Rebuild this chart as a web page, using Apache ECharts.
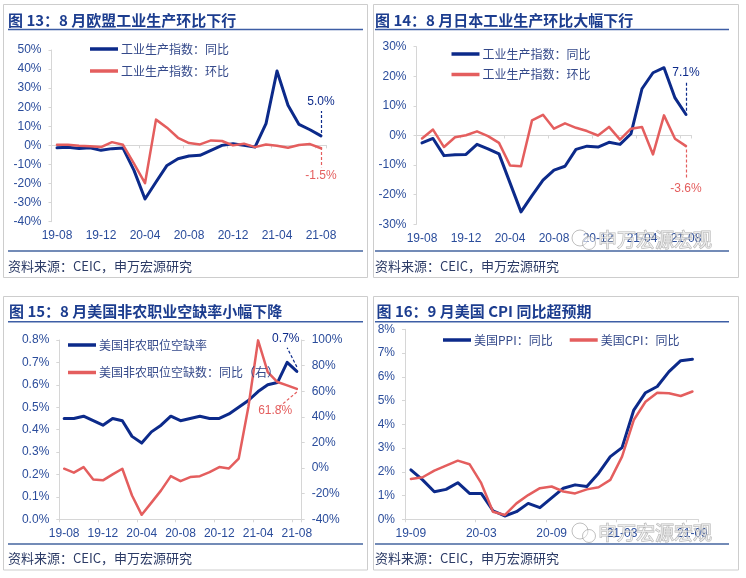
<!DOCTYPE html>
<html><head><meta charset="utf-8">
<script src="https://cdn.jsdelivr.net/npm/echarts@6/dist/echarts.min.js"></script>
<style>html,body{margin:0;padding:0;background:#fff}#c{width:746px;height:578px}</style>
</head><body><div id="c"></div>
<script>
// ---------- data ----------
const monthsA = ['19-08','19-09','19-10','19-11','19-12','20-01','20-02','20-03','20-04','20-05','20-06','20-07','20-08','20-09','20-10','20-11','20-12','21-01','21-02','21-03','21-04','21-05','21-06','21-07','21-08'];
const monthsB = ['19-09','19-10','19-11','19-12','20-01','20-02','20-03','20-04','20-05','20-06','20-07','20-08','20-09','20-10','20-11','20-12','21-01','21-02','21-03','21-04','21-05','21-06','21-07','21-08','21-09'];

const euYoY = [-1.3,-1.0,-1.6,-1.2,-2.6,-1.7,-1.4,-13.1,-28.1,-19.2,-10.5,-7.0,-5.6,-5.2,-2.6,0,0.9,0,-0.9,11.4,39.0,21.0,11.0,8.2,5.0];
const euMoM = [0.3,0.3,-0.2,-0.5,-0.9,1.7,0.3,-9.6,-19.8,13.5,9.3,4.0,1.2,0.5,2.6,2.3,0,0.9,-0.9,0.5,-0.2,-1.2,0.2,0.7,-1.5];

const jpYoY = [-2.5,-1.0,-6.8,-6.5,-6.4,-3.0,-4.5,-6.2,-16.0,-25.8,-20.3,-15.1,-11.7,-10.4,-4.7,-3.6,-3.9,-2.3,-3.0,0.6,15.8,21.2,22.9,12.7,7.1];
const jpMoM = [-1.0,2.0,-3.9,-0.6,0.1,1.4,-0.2,-2.5,-10.1,-10.4,5.1,7.0,2.3,4.1,2.6,1.5,0,2.9,-1.4,2.3,2.9,-6.4,6.8,-1.1,-3.6];

const usOpenRate = [0.45,0.45,0.46,0.44,0.42,0.45,0.44,0.37,0.34,0.39,0.42,0.46,0.44,0.45,0.46,0.45,0.45,0.47,0.50,0.53,0.57,0.60,0.61,0.70,0.66];
const usOpenYoY = [-0.5,-3.6,0.8,-8.9,-9.6,-4.9,-0.5,-21.4,-36.5,-27.0,-17.4,-6.3,-10.2,-7.0,-6.3,-3.1,0.8,-0.3,7.3,47.7,99.7,75.0,67.2,64.6,61.8];

const usPPI = [2.08,1.66,1.16,1.26,1.54,1.09,1.09,0.36,0.14,0.32,0.67,0.49,0.90,1.31,1.45,1.38,1.94,2.64,3.02,4.60,5.33,5.59,6.22,6.68,6.74];
const usCPI = [1.70,1.77,2.05,2.26,2.47,2.32,1.52,0.32,0.18,0.67,1.02,1.31,1.38,1.17,1.09,1.26,1.35,1.66,2.64,4.18,4.95,5.33,5.31,5.19,5.38];

const names1 = ['工业生产指数：同比','工业生产指数：环比'];
const names3 = ['美国非农职位空缺率','美国非农职位空缺数：同比（右）'];
const names4 = ['美国PPI：同比','美国CPI：同比'];
const titles = ['图 13：8 月欧盟工业生产环比下行','图 14：8 月日本工业生产环比大幅下行','图 15：8 月美国非农职业空缺率小幅下降','图 16：9 月美国 CPI 同比超预期'];
const source = '资料来源：CEIC，申万宏源研究';

// ---------- style ----------
const FONT = '"Liberation Sans", Arial, "Noto Sans CJK SC", sans-serif';
const CJK = '"Noto Sans CJK SC", "Liberation Sans", sans-serif';
const BLUE = '#0c2a8a', RED = '#e45e5e';
const AXC = '#d6d6d6', LBL = '#2a4c9b', LEG = '#34498a', TTL = '#1c3d8f';

const chart = echarts.init(document.getElementById('c'), null, {renderer:'canvas'});

function yAx(grid, min, max, interval, fmt, extra) {
  return Object.assign({
    type:'value', gridIndex:grid, min:min, max:max, interval:interval,
    splitLine:{show:false},
    axisLine:{show:true, lineStyle:{color:AXC, width:1}},
    axisTick:{show:true, length:3, lineStyle:{color:AXC}},
    axisLabel:{color:LBL, fontSize:12, fontFamily:FONT, margin:10, formatter:fmt}
  }, extra || {});
}
function xLabelAx(grid, cats, interval, showLine, tickInterval) {
  return {
    type:'category', gridIndex:grid, data:cats, boundaryGap:true, position:'bottom',
    axisLine:{show:showLine, onZero:false, lineStyle:{color:AXC}},
    axisTick:{show:showLine, interval:tickInterval, length:3, lineStyle:{color:AXC}},
    axisLabel:{color:LBL, fontSize:12, fontFamily:FONT, margin:8, interval:interval, fontWeight:'normal'}
  };
}
function xZeroAx(grid, cats, tickInterval) {
  return {
    type:'category', gridIndex:grid, data:cats, boundaryGap:true, position:'bottom',
    axisLine:{show:true, onZero:true, lineStyle:{color:AXC}},
    axisTick:{show:true, interval:tickInterval, length:3, lineStyle:{color:AXC}},
    axisLabel:{show:false}
  };
}
function pct(v){ return v + '%'; }
function line(name, data, color, width, xi, yi, ml) {
  const s = {
    name:name, type:'line', data:data, xAxisIndex:xi, yAxisIndex:yi,
    showSymbol:false, symbol:'none', smooth:false, silent:true,
    lineStyle:{color:color, width:width, join:'round', cap:'round'}, itemStyle:{color:color}
  };
  if (ml) s.markLine = ml;
  return s;
}
function annot(color, from, to, text) {
  return {
    silent:true, symbol:['none','none'], animation:false,
    lineStyle:{color:color, type:[3,2], width:1.2},
    label:{show:true, position:'end', formatter:text, color:color, fontSize:12, fontFamily:FONT, distance:3},
    emphasis:{disabled:true},
    data:[[{coord:from},{coord:to}]]
  };
}
function legendCfg(left, top, orient, names, gap) {
  return {
    left:left, top:top, orient:orient, icon:'rect', itemWidth:28, itemHeight:3.5, itemGap:gap,
    data:names, selectedMode:false,
    textStyle:{color:LEG, fontSize:12, fontFamily:CJK, padding:[0,0,0,-2]}
  };
}

// ---------- decorations ----------
const panels = [
  {x:3.5, y:4.5, w:364, h:273, tx:8, ty:20, uy:29.5, fy:251, sy:266.5, lx1:8, lx2:363},
  {x:373.5, y:4.5, w:365, h:273, tx:375, ty:20, uy:29.5, fy:251, sy:266.5, lx1:375, lx2:729},
  {x:3.5, y:296.5, w:364, h:273.5, tx:9, ty:311.7, uy:321.7, fy:544, sy:558.5, lx1:8, lx2:363},
  {x:373.5, y:296.5, w:365, h:273.5, tx:376.5, ty:311.7, uy:321.7, fy:544, sy:558.5, lx1:375, lx2:729}
];
const graphics = [];
panels.forEach((p, i) => {
  graphics.push({type:'rect', shape:{x:p.x, y:p.y, width:p.w, height:p.h}, style:{fill:null, stroke:'#cdcdcd', lineWidth:1}, silent:true});
  graphics.push({type:'text', x:p.tx, y:p.ty, style:{text:titles[i], fill:TTL, font:'bold 15px ' + CJK, textVerticalAlign:'middle', verticalAlign:'middle'}, silent:true});
  graphics.push({type:'line', shape:{x1:p.lx1, y1:p.uy, x2:p.lx2, y2:p.uy}, style:{stroke:'#3d5ea5', lineWidth:1.5}, silent:true});
  graphics.push({type:'line', shape:{x1:p.lx1, y1:p.fy, x2:p.lx2, y2:p.fy}, style:{stroke:'#45649f', lineWidth:1.5}, silent:true});
  graphics.push({type:'text', x:p.lx1, y:p.sy, style:{text:source, fill:'#2c3b66', font:'13px ' + CJK, textVerticalAlign:'middle', verticalAlign:'middle'}, silent:true});
});
// watermarks
[[240],[533]].forEach(([wy]) => {
  graphics.push({type:'circle', shape:{cx:580, cy:wy - 2, r:8}, style:{fill:'rgba(255,255,255,0.4)', stroke:'rgba(140,140,140,0.55)', lineWidth:1}, silent:true, z:100});
  graphics.push({type:'circle', shape:{cx:589, cy:wy + 3, r:6.5}, style:{fill:'rgba(255,255,255,0.4)', stroke:'rgba(140,140,140,0.55)', lineWidth:1}, silent:true, z:100});
  graphics.push({type:'text', x:598, y:wy, style:{text:'申万宏源宏观', fill:'rgba(255,255,255,0.55)', stroke:'rgba(130,130,130,0.6)', lineWidth:1, font:'19px ' + CJK, textVerticalAlign:'middle', verticalAlign:'middle'}, silent:true, z:100});
});

const option = {
  animation:false,
  backgroundColor:'#ffffff',
  grid:[
    {left:51.5, top:50, width:275, height:171.7},
    {left:416.5, top:46.7, width:275, height:177.6},
    {left:59.3, top:340, width:242.4, height:179.3},
    {left:405, top:329.3, width:293.3, height:190}
  ],
  xAxis:[
    xLabelAx(0, monthsA, 3, false, 3),
    xZeroAx(0, monthsA, 3),
    xLabelAx(1, monthsA, 3, false, 3),
    xZeroAx(1, monthsA, 3),
    xLabelAx(2, monthsA, 3, true, 3),
    xLabelAx(3, monthsB, 5, true, 5)
  ],
  yAxis:[
    yAx(0, -40, 50, 10, pct),
    yAx(1, -30, 30, 10, pct),
    yAx(2, 0, 0.8, 0.1, v => v.toFixed(1) + '%'),
    yAx(2, -40, 100, 20, pct, {position:'right'}),
    yAx(3, 0, 8, 1, pct)
  ],
  legend:[
    legendCfg(85, 38, 'vertical', names1, 10),
    legendCfg(446.5, 43, 'vertical', names1, 8.5),
    legendCfg(63, 334, 'vertical', names3, 15.5),
    legendCfg(438, 329, 'horizontal', names4, 17)
  ],
  graphic:{elements:graphics},
  series:[
    line(names1[0], euYoY, BLUE, 3, 0, 0, annot(BLUE, [24, 6.5], [24, 18], '5.0%')),
    line(names1[1], euMoM, RED, 2.5, 0, 0, annot(RED, [24.05, -0.9], [23.6, -11.4], '-1.5%')),
    line(names1[0], jpYoY, BLUE, 3, 2, 1, annot(BLUE, [24, 8.4], [24.3, 18.3], '7.1%')),
    line(names1[1], jpMoM, RED, 2.5, 2, 1, annot(RED, [23.8, -4.7], [23.8, -14.9], '-3.6%')),
    line(names3[0], usOpenRate, BLUE, 3, 4, 2, annot(BLUE, [23.6, 0.68], [22.9, 0.765], '0.7%')),
    line(names3[1], usOpenYoY, RED, 2.5, 4, 3, annot(RED, [23.6, 59.4], [22.4, 46.6], '61.8%')),
    line(names4[0], usPPI, BLUE, 3, 5, 4),
    line(names4[1], usCPI, RED, 2.5, 5, 4)
  ]
};
chart.setOption(option);
</script>
</body></html>
